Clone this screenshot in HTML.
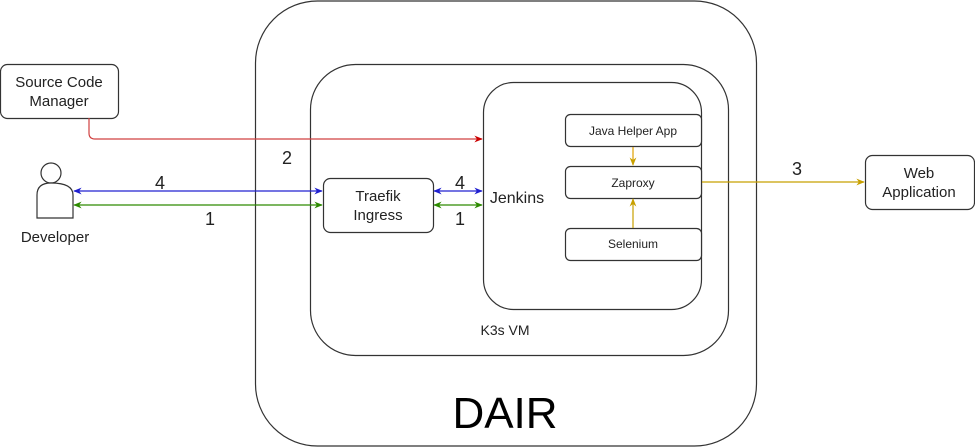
<!DOCTYPE html>
<html><head><meta charset="utf-8"><style>
html,body{margin:0;padding:0;background:#fff;}
svg{display:block;font-family:"Liberation Sans",Arial,sans-serif;}
</style></head><body>
<svg width="975" height="448" viewBox="0 0 975 448" xmlns="http://www.w3.org/2000/svg">
<defs>
<marker id="r" viewBox="0 0 10 10" refX="9" refY="5" markerWidth="7" markerHeight="7" orient="auto-start-reverse"><path d="M0,1 L10,5 L0,9 L3,5z" fill="#c00"/></marker>
<marker id="b" viewBox="0 0 10 10" refX="9" refY="5" markerWidth="7" markerHeight="7" orient="auto-start-reverse"><path d="M0,1 L10,5 L0,9 L3,5z" fill="#2020d0"/></marker>
<marker id="g" viewBox="0 0 10 10" refX="9" refY="5" markerWidth="7" markerHeight="7" orient="auto-start-reverse"><path d="M0,1 L10,5 L0,9 L3,5z" fill="#2d8a00"/></marker>
<marker id="y" viewBox="0 0 10 10" refX="9" refY="5" markerWidth="7" markerHeight="7" orient="auto-start-reverse"><path d="M0,1 L10,5 L0,9 L3,5z" fill="#c8a000"/></marker>
</defs>
<g fill="#fff" stroke="#333" stroke-width="1.2">
<rect x="255.5" y="1" width="501" height="445" rx="62"/>
<rect x="310.5" y="64.5" width="418" height="291" rx="45"/>
<rect x="483.5" y="82.5" width="218" height="227" rx="30"/>
<rect x="565.5" y="114.5" width="136" height="32" rx="5"/>
<rect x="565.5" y="166.5" width="136" height="32" rx="5"/>
<rect x="565.5" y="228.5" width="136" height="32" rx="5"/>
<rect x="865.5" y="155.5" width="109" height="54" rx="7"/>
<rect x="0.5" y="64.5" width="118" height="54" rx="7"/>
<rect x="323.5" y="178.5" width="110" height="54" rx="7"/>
<circle cx="51" cy="173" r="10"/>
<path d="M37,218 V195 Q37,183 51,183 Q73,183 73,195 V218 Z"/>
</g>
<g fill="none" stroke-width="1.2">
<path d="M89,118 V133 Q89,139 95,139 H482" stroke="#d04040" marker-end="url(#r)"/>
<path d="M74,191 H322" stroke="#2020d0" marker-start="url(#b)" marker-end="url(#b)"/>
<path d="M74,205 H322" stroke="#2d8a00" marker-start="url(#g)" marker-end="url(#g)"/>
<path d="M434,191 H482" stroke="#2020d0" marker-start="url(#b)" marker-end="url(#b)"/>
<path d="M434,205 H482" stroke="#2d8a00" marker-start="url(#g)" marker-end="url(#g)"/>
<path d="M702,182 H864" stroke="#c8a000" marker-end="url(#y)"/>
<path d="M633,147 V165" stroke="#e0a000" marker-end="url(#y)"/>
<path d="M633,228 V199" stroke="#c8a000" marker-end="url(#y)"/>
</g>
<g fill="#222" text-anchor="middle">
<text x="59" y="87" font-size="15">Source Code</text>
<text x="59" y="106" font-size="15">Manager</text>
<text x="55" y="242" font-size="15">Developer</text>
<text x="378" y="201" font-size="15">Traefik</text>
<text x="378" y="220" font-size="15">Ingress</text>
<text x="517" y="203" font-size="16">Jenkins</text>
<text x="633" y="135" font-size="12">Java Helper App</text>
<text x="633" y="187" font-size="12">Zaproxy</text>
<text x="633" y="248" font-size="12">Selenium</text>
<text x="919" y="178" font-size="15">Web</text>
<text x="919" y="197" font-size="15">Application</text>
<text x="505" y="335" font-size="14">K3s VM</text>
<text x="505" y="428" font-size="44" fill="#000">DAIR</text>
<text x="287" y="164" font-size="18">2</text>
<text x="160" y="189" font-size="18">4</text>
<text x="210" y="225" font-size="18">1</text>
<text x="460" y="189" font-size="18">4</text>
<text x="460" y="225" font-size="18">1</text>
<text x="797" y="175" font-size="18">3</text>
</g>
</svg>
</body></html>
